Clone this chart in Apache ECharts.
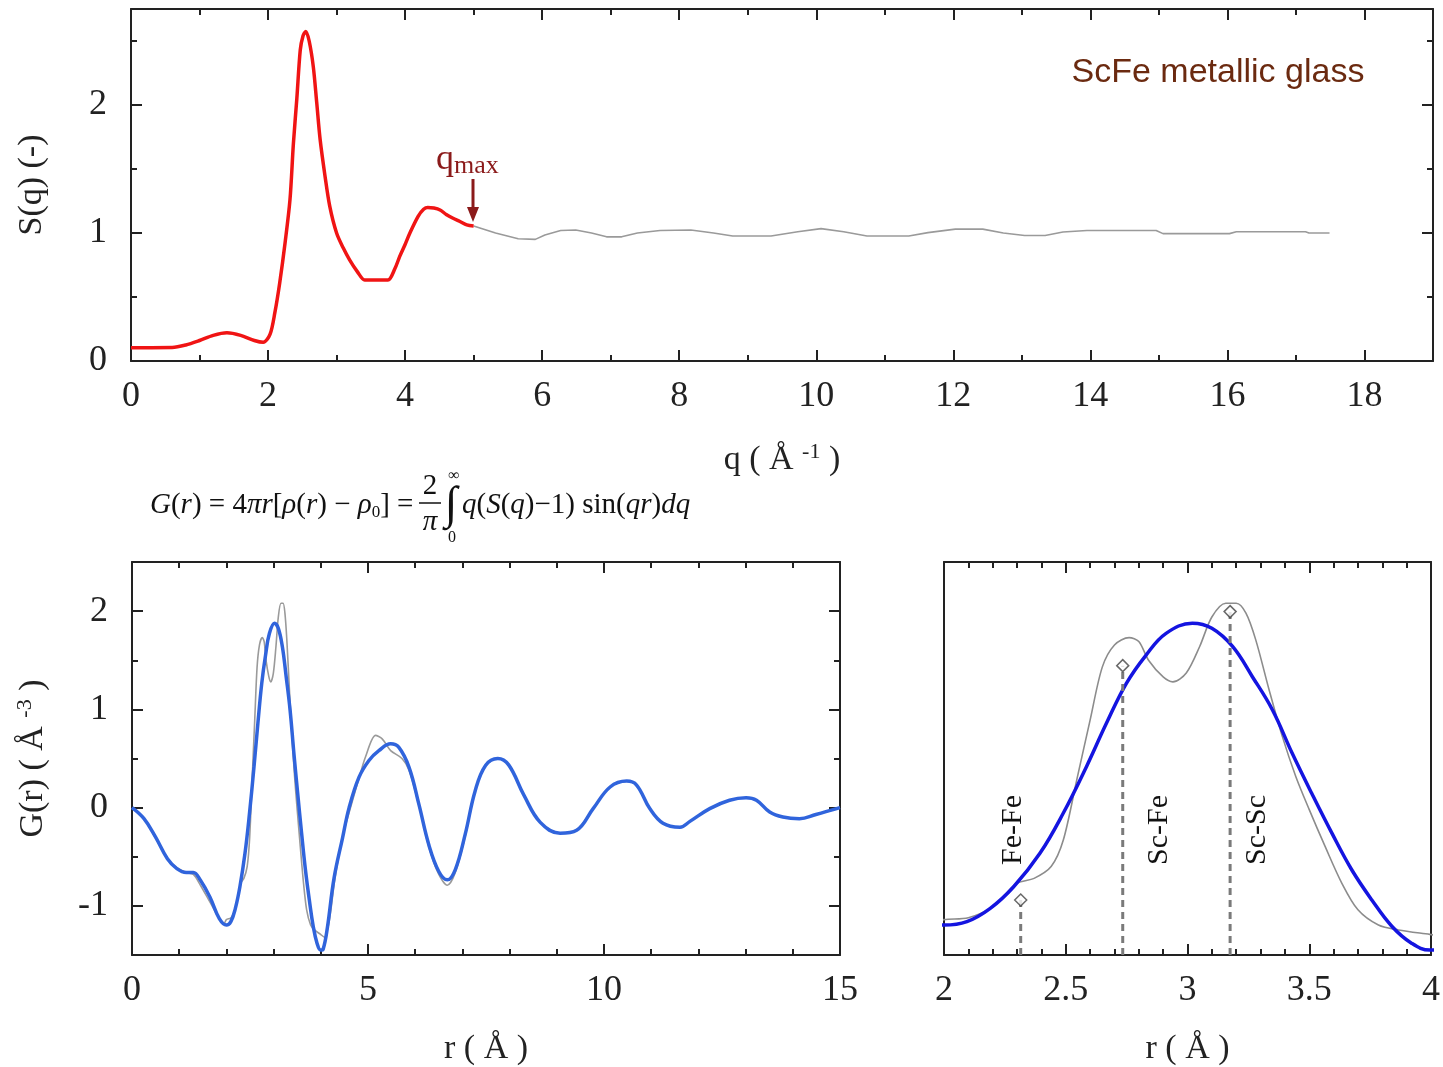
<!DOCTYPE html>
<html lang="en">
<head>
<meta charset="UTF-8"/>
<title>ScFe metallic glass - S(q) and G(r)</title>
<style>
    * { margin: 0; padding: 0; }
    body { background: #fff; }
    #chart { width: 1443px; height: 1067px; }
</style>
<script src="https://cdn.jsdelivr.net/npm/echarts@6/dist/echarts.min.js"></script>
</head>
<body>
<div id="chart"></div>
<script>
    // ---- S(q): measured part up to q_max (red) and the rest (grey) ----
    const sqRedQ = [0, 0.3, 0.6, 0.8, 1.0, 1.2, 1.4, 1.6, 1.8, 1.93, 2.03, 2.1, 2.17, 2.25, 2.32, 2.37, 2.42, 2.47, 2.51, 2.55,
        2.6, 2.66, 2.71, 2.76, 2.83, 2.9, 3.0, 3.1, 3.19, 3.3, 3.41, 3.5, 3.6, 3.75, 3.85, 3.92, 4.0, 4.07, 4.19, 4.27,
        4.33, 4.42, 4.51, 4.6, 4.7, 4.8, 4.9, 5.0];
    const sqRedS = [0.104, 0.104, 0.105, 0.125, 0.16, 0.2, 0.22, 0.2, 0.16, 0.146, 0.21, 0.38, 0.61, 0.93, 1.26, 1.7, 2.05, 2.43, 2.54, 2.575,
        2.5, 2.3, 2.02, 1.73, 1.45, 1.21, 1.0, 0.88, 0.79, 0.7, 0.633, 0.633, 0.633, 0.633, 0.72, 0.815, 0.91, 1.0, 1.13, 1.185,
        1.2, 1.195, 1.18, 1.145, 1.115, 1.09, 1.063, 1.055];
    const sqGrayQ = [5.0, 5.32, 5.65, 5.9, 6.04, 6.27, 6.49, 6.72, 6.94, 7.16, 7.39, 7.72, 8.17, 8.5, 8.78, 9.34, 9.73, 10.07,
        10.4, 10.74, 11.35, 11.63, 12.03, 12.43, 12.73, 13.04, 13.34, 13.6, 13.95, 14.96, 15.06, 16.03, 16.13, 17.14, 17.19, 17.49];
    const sqGrayS = [1.055, 1.0, 0.955, 0.95, 0.985, 1.02, 1.023, 1.0, 0.97, 0.97, 1.0, 1.02, 1.023, 1.0, 0.977, 0.977, 1.01, 1.034,
        1.01, 0.977, 0.977, 1.003, 1.03, 1.03, 1.0, 0.98, 0.98, 1.008, 1.02, 1.02, 0.995, 0.995, 1.01, 1.01, 1.0, 1.0];

    // ---- G(r): fitted (blue) ----
    const grBlueR = [0, 0.25, 0.5, 0.75, 0.95, 1.15, 1.3, 1.45, 1.65, 1.85, 2.0, 2.094, 2.19, 2.286, 2.394, 2.489, 2.585, 2.667, 2.749, 2.83,
        2.912, 3.02, 3.1, 3.185, 3.267, 3.349, 3.43, 3.51, 3.593, 3.675, 3.757, 3.84, 3.92, 3.995, 4.05, 4.14, 4.28, 4.46, 4.6, 4.81,
        5.02, 5.23, 5.48, 5.65, 5.87, 6.08, 6.29, 6.5, 6.68, 6.85, 7.06, 7.27, 7.49, 7.75, 7.98, 8.3, 8.65, 9.07, 9.42, 9.77,
        10.13, 10.48, 10.69, 10.97, 11.25, 11.61, 11.82, 12.24, 12.66, 13.01, 13.23, 13.51, 13.79, 14.14, 14.49, 15.0];
    const grBlueG = [0, -0.11, -0.3, -0.52, -0.62, -0.66, -0.66, -0.74, -0.91, -1.13, -1.195, -1.16, -1.025, -0.805, -0.465, -0.06, 0.417, 0.858, 1.265, 1.553,
        1.774, 1.876, 1.825, 1.64, 1.33, 0.994, 0.553, 0.146, -0.26, -0.635, -0.94, -1.21, -1.38, -1.45, -1.44, -1.22, -0.72, -0.31, 0.0, 0.31,
        0.48, 0.58, 0.65, 0.615, 0.41, 0.03, -0.38, -0.65, -0.735, -0.63, -0.27, 0.17, 0.43, 0.5, 0.435, 0.13, -0.15, -0.26, -0.23, -0.01,
        0.21, 0.27, 0.23, -0.01, -0.16, -0.2, -0.14, -0.01, 0.075, 0.1, 0.075, -0.045, -0.096, -0.113, -0.07, 0.0];

    // ---- G(r): from the data (grey) ----
    const grGrayR = [0, 0.25, 0.5, 0.75, 0.95, 1.15, 1.3, 1.45, 1.65, 1.85, 1.95, 2.0, 2.1, 2.2, 2.3, 2.37, 2.44, 2.49, 2.545, 2.6,
        2.65, 2.7, 2.76, 2.8, 2.84, 2.9, 2.94, 2.995, 3.05, 3.1, 3.157, 3.2, 3.24, 3.28, 3.335, 3.39, 3.445, 3.5, 3.566, 3.634,
        3.7, 3.784, 3.866, 3.995, 4.08, 4.18, 4.3, 4.46, 4.6, 4.81, 4.95, 5.16, 5.3, 5.48, 5.72, 5.87,
        6.08, 6.29, 6.5, 6.68, 6.85, 7.06, 7.27, 7.49, 7.75, 7.98, 8.3, 8.65, 9.07, 9.42, 9.77, 10.13, 10.48, 10.69, 10.97, 11.25,
        11.61, 11.82, 12.24, 12.66, 13.01, 13.23, 13.51, 13.79, 14.14, 14.49, 15.0];
    const grGrayG = [0, -0.11, -0.31, -0.52, -0.61, -0.66, -0.68, -0.79, -0.96, -1.13, -1.18, -1.14, -1.12, -1.01, -0.77, -0.72, -0.6, -0.33, 0.28, 0.89,
        1.43, 1.655, 1.73, 1.69, 1.5, 1.33, 1.28, 1.37, 1.64, 1.94, 2.08, 2.08, 1.98, 1.71, 1.2, 0.72, 0.315, -0.02, -0.4, -0.77,
        -1.04, -1.195, -1.245, -1.29, -1.32, -1.15, -0.72, -0.3, -0.05, 0.3, 0.52, 0.735, 0.7, 0.58, 0.5, 0.38,
        0.02, -0.4, -0.68, -0.79, -0.66, -0.29, 0.17, 0.43, 0.5, 0.435, 0.13, -0.15, -0.26, -0.23, -0.01, 0.21, 0.27, 0.23, -0.01, -0.16,
        -0.2, -0.14, -0.01, 0.075, 0.1, 0.075, -0.045, -0.096, -0.113, -0.07, 0.0];

    // ---- partial pair distances marked in the zoomed panel ----
    const bondNames = ["Fe-Fe", "Sc-Fe", "Sc-Sc"];
    const bondR = [2.315, 2.734, 3.175];
    const bondG = [-0.94, 1.445, 1.995];

    // ---- axis ranges & ticks ----
    const qRange = [0, 19], sRange = [0, 2.75];
    const rRange = [0, 15], gRange = [-1.5, 2.5];
    const rZoomRange = [2, 4];
    const qTicks = [0, 2, 4, 6, 8, 10, 12, 14, 16, 18];
    const qMinor = [1, 3, 5, 7, 9, 11, 13, 15, 17];
    const sTicks = [0, 1, 2];
    const sMinor = [0.5, 1.5, 2.5];
    const rTicks = [0, 5, 10, 15];
    const rMinor = [1, 2, 3, 4, 6, 7, 8, 9, 11, 12, 13, 14];
    const gTicks = [-1, 0, 1, 2];
    const gMinor = [-0.5, 0.5, 1.5];
    const rZoomTicks = [2, 2.5, 3, 3.5, 4];
    const rZoomMinor = [2.1, 2.2, 2.3, 2.4, 2.6, 2.7, 2.8, 2.9, 3.1, 3.2, 3.3, 3.4, 3.6, 3.7, 3.8, 3.9];

    const SERIF = '"Liberation Serif", "Times New Roman", serif';
    const SANS = '"Liberation Sans", Arial, sans-serif';
    const INK = "#222";
    const zip = (a, b) => a.map((v, i) => [v, b[i]]);

    const xAxes = [];
    const yAxes = [];

    function addAxis(list, o) {
        const ax = {
            type: "value",
            gridIndex: o.grid,
            min: o.range[0],
            max: o.range[1],
            position: o.pos,
            splitLine: {show: false},
            axisLine: {show: !!o.line, onZero: false, lineStyle: {color: INK, width: 2}},
            axisTick: {
                show: o.ticks.length > 0,
                inside: true,
                length: o.len,
                customValues: o.ticks,
                lineStyle: {color: INK, width: 2}
            },
            axisLabel: o.labels
                ? {show: true, customValues: o.labels, fontFamily: SERIF, fontSize: 36, color: INK, margin: o.margin}
                : {show: false}
        };
        if (o.name) {
            Object.assign(ax, {
                name: o.name,
                nameLocation: "middle",
                nameGap: o.nameGap,
                nameTextStyle: {
                    fontFamily: SERIF, fontSize: 34, color: INK,
                    rich: {
                        n: {fontFamily: SERIF, fontSize: 34, color: INK, lineHeight: 38},
                        sup: {fontFamily: SERIF, fontSize: 22, color: INK, lineHeight: 22, verticalAlign: "top"}
                    }
                }
            });
        }
        list.push(ax);
        return list.length - 1;
    }

    // a boxed frame: ticks on all four sides, longer major ticks, labels on bottom/left
    function frame(grid, xr, yr, t) {
        const xi = addAxis(xAxes, {grid, range: xr, pos: "bottom", line: true, ticks: t.xMaj, len: 11,
            labels: t.xMaj, margin: 18, name: t.xName, nameGap: t.xGap});
        addAxis(xAxes, {grid, range: xr, pos: "bottom", ticks: t.xMin, len: 6});
        addAxis(xAxes, {grid, range: xr, pos: "top", line: true, ticks: t.xMaj, len: 11});
        addAxis(xAxes, {grid, range: xr, pos: "top", ticks: t.xMin, len: 6});
        const yi = addAxis(yAxes, {grid, range: yr, pos: "left", line: true, ticks: t.yMaj, len: 11,
            labels: t.yLab, margin: 24, name: t.yName, nameGap: t.yGap});
        addAxis(yAxes, {grid, range: yr, pos: "left", ticks: t.yMin, len: 6});
        addAxis(yAxes, {grid, range: yr, pos: "right", line: true, ticks: t.yMaj, len: 11});
        addAxis(yAxes, {grid, range: yr, pos: "right", ticks: t.yMin, len: 6});
        return [xi, yi];
    }

    const [sqX, sqY] = frame(0, qRange, sRange, {
        xMaj: qTicks, xMin: qMinor, yMaj: sTicks, yMin: sMinor, yLab: sTicks,
        xName: "{n|q ( Å }{sup|-1}{n| )}", xGap: 80, yName: "{n|S(q) (-)}", yGap: 80
    });
    const [grX, grY] = frame(1, rRange, gRange, {
        xMaj: rTicks, xMin: rMinor, yMaj: gTicks, yMin: gMinor, yLab: gTicks,
        xName: "{n|r ( Å )}", xGap: 75, yName: "{n|G(r) ( Å }{sup|-3}{n| )}", yGap: 80
    });
    const [zmX, zmY] = frame(2, rZoomRange, gRange, {
        xMaj: rZoomTicks, xMin: rZoomMinor, yMaj: [], yMin: [], yLab: null,
        xName: "{n|r ( Å )}", xGap: 75
    });

    const lineBase = {type: "line", showSymbol: false, animation: false};

    const series = [
        Object.assign({}, lineBase, {
            name: "S(q) extrapolated", xAxisIndex: sqX, yAxisIndex: sqY, data: zip(sqGrayQ, sqGrayS),
            lineStyle: {color: "#9a9a9a", width: 1.6}
        }),
        Object.assign({}, lineBase, {
            name: "S(q)", xAxisIndex: sqX, yAxisIndex: sqY, data: zip(sqRedQ, sqRedS), smooth: 0.3,
            lineStyle: {color: "#f01414", width: 3.5}, z: 3
        }),
        Object.assign({}, lineBase, {
            name: "G(r) data", xAxisIndex: grX, yAxisIndex: grY, data: zip(grGrayR, grGrayG), smooth: 0.3,
            lineStyle: {color: "#9a9a9a", width: 1.6}
        }),
        Object.assign({}, lineBase, {
            name: "G(r) fit", xAxisIndex: grX, yAxisIndex: grY, data: zip(grBlueR, grBlueG), smooth: 0.4,
            lineStyle: {color: "#3064dc", width: 3.5}, z: 3
        }),
        Object.assign({}, lineBase, {
            name: "G(r) data zoom", xAxisIndex: zmX, yAxisIndex: zmY, data: zip(grGrayR, grGrayG), smooth: 0.3,
            lineStyle: {color: "#8c8c8c", width: 1.6}
        }),
        Object.assign({}, lineBase, {
            name: "G(r) fit zoom", xAxisIndex: zmX, yAxisIndex: zmY, data: zip(grBlueR, grBlueG), smooth: 0.4,
            lineStyle: {color: "#1414e0", width: 3.5}, z: 3
        })
    ];

    bondR.forEach((r, i) => {
        series.push(Object.assign({}, lineBase, {
            name: bondNames[i] + " line", xAxisIndex: zmX, yAxisIndex: zmY,
            data: [[r, gRange[0]], [r, bondG[i]]],
            lineStyle: {color: "#7a7a7a", width: 3, type: [7, 5]}, z: 4
        }));
    });
    series.push({
        type: "scatter", name: "bonds", xAxisIndex: zmX, yAxisIndex: zmY, animation: false,
        data: zip(bondR, bondG), symbol: "diamond", symbolSize: 12,
        itemStyle: {color: "#fff", borderColor: "#444", borderWidth: 1.5}, z: 5
    });

    const fRich = {
        i: {fontFamily: SERIF, fontStyle: "italic", fontSize: 29, lineHeight: 32, fill: "#111"},
        n: {fontFamily: SERIF, fontSize: 29, lineHeight: 32, fill: "#111"},
        s: {fontFamily: SERIF, fontSize: 17, lineHeight: 17, fill: "#111", verticalAlign: "bottom"}
    };

    const graphic = [
        {
            type: "text", x: 1218, y: 73,
            style: {text: "ScFe metallic glass", fontFamily: SANS, fontSize: 34, fill: "#6b2a10", align: "center", verticalAlign: "middle"}
        },
        {
            type: "text", x: 436, y: 160,
            style: {
                text: "{q|q}{m|max}", verticalAlign: "middle",
                rich: {
                    q: {fontFamily: SERIF, fontSize: 36, lineHeight: 38, fill: "#8b1a1a"},
                    m: {fontFamily: SERIF, fontSize: 26, lineHeight: 22, fill: "#8b1a1a", verticalAlign: "bottom"}
                }
            }
        },
        {type: "line", shape: {x1: 473, y1: 179, x2: 473, y2: 212}, style: {stroke: "#8b1a1a", lineWidth: 3}},
        {type: "polygon", shape: {points: [[467, 207], [479, 207], [473, 222]]}, style: {fill: "#8b1a1a"}},
        // formula
        {
            type: "text", x: 150, y: 505,
            style: {
                text: "{i|G}{n|(}{i|r}{n|) = 4}{i|πr}{n|[}{i|ρ}{n|(}{i|r}{n|) − }{i|ρ}{s|0}{n|] =}",
                verticalAlign: "middle", rich: fRich
            }
        },
        {type: "text", x: 430, y: 486, style: {text: "2", fontFamily: SERIF, fontSize: 29, fill: "#111", align: "center", verticalAlign: "middle"}},
        {type: "line", shape: {x1: 419, y1: 503, x2: 441, y2: 503}, style: {stroke: "#111", lineWidth: 1.5}},
        {type: "text", x: 430, y: 522, style: {text: "π", fontFamily: SERIF, fontStyle: "italic", fontSize: 29, fill: "#111", align: "center", verticalAlign: "middle"}},
        {type: "text", x: 451, y: 506, style: {text: "∫", fontFamily: SERIF, fontSize: 46, fill: "#111", align: "center", verticalAlign: "middle"}},
        {type: "text", x: 454, y: 476, style: {text: "∞", fontFamily: SERIF, fontSize: 16, fill: "#111", align: "center", verticalAlign: "middle"}},
        {type: "text", x: 452, y: 538, style: {text: "0", fontFamily: SERIF, fontSize: 16, fill: "#111", align: "center", verticalAlign: "middle"}},
        {
            type: "text", x: 462, y: 505,
            style: {
                text: "{i|q}{n|(}{i|S}{n|(}{i|q}{n|)−1) sin(}{i|qr}{n|)}{i|dq}",
                verticalAlign: "middle", rich: fRich
            }
        }
    ];
    // bond labels, written bottom-to-top
    const bondLabelX = [1013, 1159, 1257];
    bondNames.forEach((nm, i) => {
        graphic.push({
            type: "text", x: bondLabelX[i], y: 830, rotation: Math.PI / 2,
            style: {text: nm, fontFamily: SERIF, fontSize: 30, fill: "#111", align: "center", verticalAlign: "middle"}
        });
    });

    const chart = echarts.init(document.getElementById("chart"));
    chart.setOption({
        backgroundColor: "#fff",
        animation: false,
        grid: [
            {left: 131, top: 9, width: 1302, height: 352},
            {left: 132, top: 562, width: 708, height: 393},
            {left: 944, top: 562, width: 488, height: 393}
        ],
        xAxis: xAxes,
        yAxis: yAxes,
        series: series,
        graphic: graphic
    });
</script>
</body>
</html>
